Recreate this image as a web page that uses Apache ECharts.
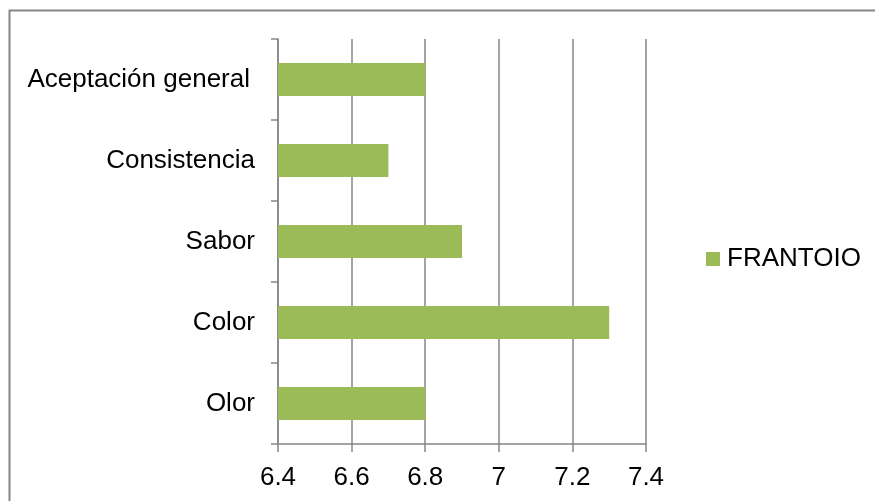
<!DOCTYPE html>
<html><head><meta charset="utf-8">
<script src="https://cdn.jsdelivr.net/npm/echarts@6/dist/echarts.min.js"></script>
<style>html,body{margin:0;padding:0;background:#fff}#c{width:875px;height:501px}</style>
</head><body><div id="c"></div>
<script>
const categories = ['Olor', 'Color', 'Sabor', 'Consistencia', 'Aceptación general'];
const frantoio = [6.8, 7.3, 6.9, 6.7, 6.8];
const seriesName = 'FRANTOIO';
const xMin = 6.4, xMax = 7.4, xStep = 0.2;

const chart = echarts.init(document.getElementById('c'), null, {renderer: 'canvas'});
const font = '"Liberation Sans", Arial, sans-serif';
chart.setOption({
  animation: false,
  backgroundColor: '#fff',
  graphic: [{
    type: 'rect', shape: {x: 9.5, y: 10.5, width: 900, height: 600},
    style: {fill: 'none', stroke: '#868686', lineWidth: 2}, silent: true
  }],
  grid: {left: 278, right: 229, top: 39, bottom: 57, containLabel: false},
  legend: {
    data: [seriesName], orient: 'vertical', left: 701, top: 241,
    itemWidth: 14, itemHeight: 14, itemGap: 6, icon: 'rect',
    textStyle: {fontFamily: font, fontSize: 26, color: '#000', padding: [0,0,0,2]}
  },
  xAxis: {
    type: 'value', min: xMin, max: xMax, interval: xStep,
    axisLine: {show: true, lineStyle: {color: '#868686', width: 1.5}},
    axisTick: {show: true, length: 8, lineStyle: {color: '#868686', width: 1.5}},
    splitLine: {show: true, lineStyle: {color: '#868686', width: 1.5}},
    axisLabel: {fontFamily: font, fontSize: 26, color: '#000', margin: 21}
  },
  yAxis: {
    type: 'category', data: categories,
    axisLine: {show: true, lineStyle: {color: '#868686', width: 1.5}},
    axisTick: {show: true, length: 7, lineStyle: {color: '#868686', width: 1.5}},
    axisLabel: {
      fontFamily: font, fontSize: 26, color: '#000', margin: 23,
      formatter: function (v) { return v.length > 14 ? '{w|' + v + '}' : v; },
      rich: {w: {fontFamily: font, fontSize: 26, color: '#000', padding: [0, 5, 0, 0]}}
    }
  },
  series: [{
    name: seriesName, type: 'bar', data: frantoio,
    barCategoryGap: '59%',
    itemStyle: {color: '#9BBB59'}
  }]
});
</script></body></html>
